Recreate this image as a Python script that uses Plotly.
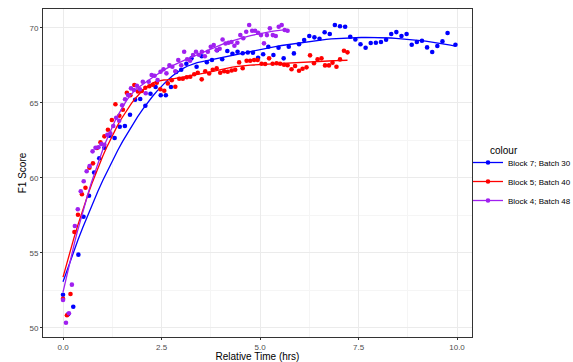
import numpy as np
import plotly.graph_objects as go

# ---------------- data ----------------
series_names = ["Block 7; Batch 30", "Block 5; Batch 40", "Block 4; Batch 48"]
series_colors = ["#0000FF", "#FF0000", "#A020F0"]

blue_x = [0.00, 0.13, 0.26, 0.39, 0.52, 0.66, 0.79, 0.92, 1.05, 1.18, 1.31, 1.44, 1.57, 1.70,
          1.83, 1.96, 2.09, 2.22, 2.35, 2.48, 2.61, 2.74, 2.87, 3.00, 3.13, 3.26, 3.39, 3.52,
          3.65, 3.78, 3.91, 4.04, 4.17, 4.30, 4.43, 4.56, 4.69, 4.82, 4.95, 5.08, 5.21, 5.34,
          5.47, 5.60, 5.73, 5.86, 5.99, 6.12, 6.25, 6.38, 6.51, 6.64, 6.77, 6.90, 7.03, 7.16,
          7.29, 7.42, 7.55, 7.68, 7.81, 7.94, 8.07, 8.20, 8.33, 8.46, 8.59, 8.72, 8.85, 8.98,
          9.11, 9.24, 9.37, 9.50, 9.63, 9.76, 9.96]
blue_y = [52.20, 50.90, 51.40, 54.87, 57.40, 58.80, 60.35, 61.30, 62.00, 62.80, 62.65, 63.40,
          63.45, 64.20, 65.20, 65.25, 64.80, 65.60, 66.05, 65.50, 65.50, 66.05, 67.05, 67.20,
          67.60, 67.96, 67.40, 68.10, 67.70, 67.85, 68.50, 67.90, 68.45, 68.27, 68.40, 68.30,
          68.35, 68.33, 68.00, 68.23, 68.73, 68.18, 68.67, 67.96, 68.73, 68.29, 68.90, 69.18,
          69.45, 69.36, 69.27, 69.70, 69.58, 70.18, 70.10, 70.07, 69.40, 69.22, 68.90, 68.67,
          68.98, 69.00, 69.05, 69.20, 69.58, 69.71, 69.45, 69.58, 68.87, 69.05, 69.13, 68.69,
          68.38, 68.78, 69.09, 69.65, 68.87]

red_x = [0.00, 0.10, 0.19, 0.29, 0.38, 0.48, 0.57, 0.67, 0.76, 0.86, 0.95, 1.05, 1.14, 1.24,
         1.33, 1.43, 1.52, 1.62, 1.71, 1.81, 1.90, 2.00, 2.09, 2.19, 2.28, 2.38, 2.47, 2.57,
         2.66, 2.76, 2.85, 2.95, 3.04, 3.14, 3.23, 3.33, 3.42, 3.52, 3.61, 3.71, 3.80, 3.90,
         3.99, 4.09, 4.18, 4.28, 4.37, 4.47, 4.56, 4.66, 4.75, 4.85, 4.94, 5.04, 5.13, 5.23,
         5.32, 5.42, 5.51, 5.61, 5.70, 5.80, 5.89, 5.99, 6.08, 6.18, 6.27, 6.37, 6.46, 6.56,
         6.65, 6.75, 6.84, 6.94, 7.03, 7.13, 7.22]
red_y = [51.93, 50.83, 52.25, 56.38, 57.53, 58.90, 59.33, 60.67, 60.96, 61.98, 62.36, 62.76,
         63.20, 63.85, 64.90, 64.13, 64.53, 65.67, 65.50, 66.18, 65.75, 65.78, 66.00, 66.10,
         66.20, 66.33, 65.90, 65.80, 66.29, 66.50, 66.07, 66.60, 66.60, 66.70, 66.73, 66.90,
         67.00, 66.56, 67.10, 66.95, 67.20, 67.30, 67.00, 67.10, 67.07, 67.15, 67.20, 67.69,
         67.30, 67.80, 67.80, 67.85, 67.85, 67.60, 67.58, 67.96, 67.60, 67.63, 67.60, 67.53,
         67.50, 67.23, 67.45, 67.13, 67.27, 67.36, 68.16, 67.63, 67.89, 67.96, 67.49, 67.49,
         67.67, 67.40, 67.89, 68.47, 68.36]

purple_x = [0.000, 0.075, 0.150, 0.225, 0.300, 0.375, 0.450, 0.525, 0.600, 0.675, 0.750, 0.825,
            0.900, 0.975, 1.050, 1.125, 1.200, 1.275, 1.350, 1.425, 1.500, 1.575, 1.650, 1.725,
            1.800, 1.875, 1.950, 2.025, 2.100, 2.175, 2.250, 2.325, 2.400, 2.475, 2.550, 2.625,
            2.700, 2.775, 2.850, 2.925, 3.000, 3.075, 3.150, 3.225, 3.300, 3.375, 3.450, 3.525,
            3.600, 3.675, 3.750, 3.825, 3.900, 3.975, 4.050, 4.125, 4.200, 4.275, 4.350, 4.425,
            4.500, 4.575, 4.650, 4.725, 4.800, 4.875, 4.950, 5.025, 5.100, 5.175, 5.250, 5.325,
            5.400, 5.475, 5.550, 5.625, 5.700]
purple_y = [51.85, 50.33, 50.96, 52.87, 56.78, 57.90, 59.10, 59.76, 60.43, 60.78, 61.76, 62.00,
            62.03, 62.25, 62.20, 62.87, 62.96, 63.45, 64.00, 63.80, 64.83, 65.23, 65.51, 65.96,
            65.85, 66.13, 65.90, 66.40, 65.63, 66.40, 66.85, 66.80, 66.51, 67.07, 67.23, 66.96,
            67.49, 67.40, 67.10, 67.85, 67.50, 68.40, 67.90, 67.80, 68.18, 68.40, 68.20, 68.40,
            68.10, 68.40, 68.73, 68.85, 68.50, 68.60, 69.22, 68.95, 69.00, 69.05, 68.80, 69.00,
            69.51, 69.30, 69.73, 70.18, 69.80, 69.80, 69.67, 69.51, 68.96, 69.51, 69.96, 69.51,
            69.45, 70.07, 70.18, 69.85, 69.80]

x_tick_vals = [0, 2.5, 5, 7.5, 10]
x_tick_text = ["0.0", "2.5", "5.0", "7.5", "10.0"]
y_tick_vals = [50, 55, 60, 65, 70]
y_tick_text = ["50", "55", "60", "65", "70"]
legend_title = "colour"


# ---------------- loess smoother (as ggplot geom_smooth) ----------------
def loess(x, y, span=0.75, n_out=80):
    x = np.asarray(x, float)
    y = np.asarray(y, float)
    n = len(x)
    q = int(np.floor(n * span))
    xs = np.linspace(x.min(), x.max(), n_out)
    out = []
    for x0 in xs:
        d = np.abs(x - x0)
        h = np.sort(d)[q - 1]
        u = np.clip(d / h, 0, 1)
        w = (1 - u ** 3) ** 3
        X = np.vstack([np.ones(n), x - x0, (x - x0) ** 2]).T
        W = np.diag(w)
        beta = np.linalg.solve(X.T @ W @ X, X.T @ W @ y)
        out.append(beta[0])
    return xs, np.array(out)


FONT = "Liberation Sans, Arial, sans-serif"
data = [(blue_x, blue_y), (red_x, red_y), (purple_x, purple_y)]

fig = go.Figure()
for (xv, yv), name, col in zip(data, series_names, series_colors):
    fig.add_trace(go.Scatter(x=xv, y=yv, mode="markers", name=name, legendgroup=name,
                             showlegend=False,
                             marker=dict(color=col, size=4.6, line=dict(width=0))))
    sx, sy = loess(xv, yv)
    fig.add_trace(go.Scatter(x=sx, y=sy, mode="lines", name=name, legendgroup=name,
                             showlegend=False, line=dict(color=col, width=1.3)))
# legend entries (line + point key)
for name, col in zip(series_names, series_colors):
    fig.add_trace(go.Scatter(x=[None], y=[None], mode="lines+markers", name=name,
                             legendgroup=name, showlegend=True,
                             marker=dict(color=col, size=4.6),
                             line=dict(color=col, width=1.3)))

axis_common = dict(
    showgrid=True, gridcolor="#EBEBEB", gridwidth=1,
    zeroline=False, showline=True, mirror=True, linecolor="#333333", linewidth=1,
    ticks="outside", ticklen=2, tickcolor="#333333", tickwidth=1,
    tickfont=dict(family=FONT, size=8, color="#4D4D4D"),
)

fig.update_xaxes(range=[-0.508, 10.38], tickmode="array", tickvals=x_tick_vals,
                 ticktext=x_tick_text,
                 minor=dict(tick0=0, dtick=1.25, showgrid=True, gridcolor="#F5F5F5",
                            gridwidth=0.6, ticks=""),
                 title=dict(text="Relative Time (hrs)", standoff=5,
                            font=dict(family=FONT, size=10, color="#000000")),
                 **axis_common)
fig.update_yaxes(range=[49.38, 71.25], tickmode="array", tickvals=y_tick_vals,
                 ticktext=y_tick_text,
                 minor=dict(tick0=50, dtick=2.5, showgrid=True, gridcolor="#F5F5F5",
                            gridwidth=0.6, ticks=""),
                 title=dict(text="F1 Score", standoff=0,
                            font=dict(family=FONT, size=10, color="#000000")),
                 **axis_common)

fig.update_layout(
    width=573, height=362,
    margin=dict(l=43, r=101, t=9, b=25, pad=0, autoexpand=False),
    paper_bgcolor="white", plot_bgcolor="white",
    font=dict(family=FONT, color="#000000"),
    showlegend=True,
    legend=dict(x=(468 - 43) / 429, y=(362 - 25 - 148) / 328, xanchor="left", yanchor="top",
                font=dict(family=FONT, size=8, color="#000000"),
                itemwidth=30, tracegroupgap=0, bgcolor="rgba(0,0,0,0)"),
    annotations=[dict(text=legend_title, xref="paper", yref="paper",
                      x=(488 - 43) / 429, y=(362 - 25 - 150) / 328,
                      xanchor="left", yanchor="middle", showarrow=False,
                      font=dict(family=FONT, size=10, color="#000000"))],
)

fig.write_html("out.html")
